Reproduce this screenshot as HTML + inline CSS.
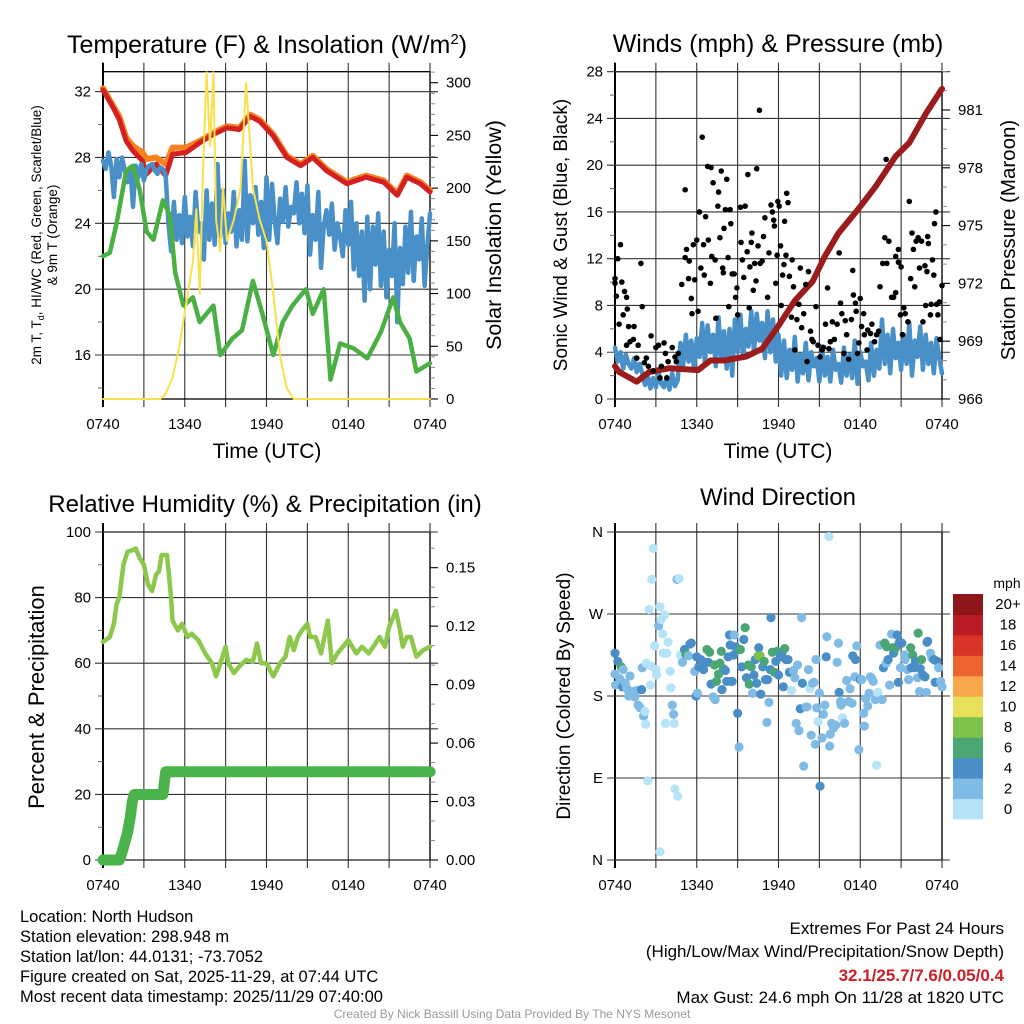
<!DOCTYPE html>
<html><head><meta charset="utf-8"><style>
html,body{margin:0;padding:0;background:#fff}
svg{display:block;font-family:"Liberation Sans",sans-serif}
</style></head><body>
<svg id="c" width="1024" height="1024" viewBox="0 0 1024 1024" xmlns="http://www.w3.org/2000/svg">
<rect width="1024" height="1024" fill="#fff"/>
<g id="g"></g>
<text x="267" y="53" font-size="25" text-anchor="middle">Temperature (F) &amp; Insolation (W/m<tspan dy="-9" font-size="15">2</tspan><tspan dy="9">)</tspan></text>
<text x="778" y="52" font-size="25" text-anchor="middle">Winds (mph) &amp; Pressure (mb)</text>
<text x="265" y="512" font-size="24" text-anchor="middle">Relative Humidity (%) &amp; Precipitation (in)</text>
<text x="778" y="505" font-size="24" text-anchor="middle">Wind Direction</text>
<text transform="translate(41,235) rotate(-90)" font-size="13.5" text-anchor="middle">2m T, T<tspan font-size="9" dy="3">d</tspan><tspan dy="-3">, HI/WC (Red, Green, Scarlet/Blue)</tspan></text>
<text transform="translate(57,235) rotate(-90)" font-size="13.5" text-anchor="middle">&amp; 9m T (Orange)</text>
<text transform="translate(501,235) rotate(-90)" font-size="21.5" text-anchor="middle">Solar Insolation (Yellow)</text>
<text x="267" y="458" font-size="21" text-anchor="middle">Time (UTC)</text>
<text x="778" y="458" font-size="21" text-anchor="middle">Time (UTC)</text>
<text transform="translate(567,235) rotate(-90)" font-size="19" text-anchor="middle">Sonic Wind &amp; Gust (Blue, Black)</text>
<text transform="translate(1015,240) rotate(-90)" font-size="20.5" text-anchor="middle">Station Pressure (Maroon)</text>
<text transform="translate(44,697) rotate(-90)" font-size="22" text-anchor="middle">Percent &amp; Precipitation</text>
<text transform="translate(570,696) rotate(-90)" font-size="19" text-anchor="middle">Direction (Colored By Speed)</text>
<text x="1007" y="588" font-size="14" text-anchor="middle">mph</text>
<g font-size="16.5">
<text x="20" y="922">Location: North Hudson</text>
<text x="20" y="942">Station elevation: 298.948 m</text>
<text x="20" y="962">Station lat/lon: 44.0131; -73.7052</text>
<text x="20" y="982">Figure created on Sat, 2025-11-29, at 07:44 UTC</text>
<text x="20" y="1002">Most recent data timestamp: 2025/11/29 07:40:00</text>
</g>
<g font-size="17" text-anchor="end">
<text x="1004" y="934">Extremes For Past 24 Hours</text>
<text x="1004" y="957">(High/Low/Max Wind/Precipitation/Snow Depth)</text>
<text x="1004" y="981" fill="#cc1f26" font-weight="bold">32.1/25.7/7.6/0.05/0.4</text>
<text x="1004" y="1003">Max Gust: 24.6 mph On 11/28 at 1820 UTC</text>
</g>
<text x="512" y="1018" font-size="12" fill="#999" text-anchor="middle">Created By Nick Bassill Using Data Provided By The NYS Mesonet</text>
</svg>
<script>
// ---- time axis ----
const timeTicks=['0740','1340','1940','0140','0740'];
// ---- panel 1: temperature ----
const tempHours=[0,0.7,1.2,1.7,2.2,2.9,3.2,3.9,4.6,5.1,6.1,7.1,8.1,9.1,10.0,10.8,11.5,12.5,13.5,14.5,15.4,16.4,17.9,19.3,20.6,21.6,22.3,23.3,24];
const tempRed=[32.1,31.1,30.3,29.0,28.4,27.8,27.0,27.6,26.9,28.2,28.3,28.9,29.4,29.8,29.7,30.5,30.2,29.3,28.0,27.5,28.0,27.2,26.4,26.8,26.5,25.7,26.8,26.4,25.9];
const tempOrange=[32.2,31.2,30.5,29.2,28.7,28.3,27.9,28.0,27.6,28.6,28.6,29.0,29.5,29.9,29.8,30.6,30.3,29.4,28.1,27.6,28.1,27.3,26.5,26.9,26.6,25.8,26.9,26.5,26.0];
const dewHours=[0,0.5,1.0,1.7,2.2,2.7,3.2,3.7,4.4,4.9,5.3,5.9,6.6,7.1,8.1,8.6,9.5,10.2,11.0,11.7,12.5,13.2,13.9,14.9,15.4,16.2,16.7,17.4,18.4,19.4,20.4,21.3,21.8,22.5,23.0,24];
const dewValues=[22,22.2,24,27.2,27.5,26,23.5,23,25.4,24.5,21,19,19.5,18,19,16,17,17.5,20.5,18.5,16,18,19,20,18.5,20,14.5,16.7,16.4,15.8,17.4,19.5,18,17,15,15.5];
const windChill=[27.8,27.3,28.3,27.5,25.6,27.9,26.8,28.0,27.2,26.5,27.4,25.0,27.5,26.8,27.6,26.6,27.3,
27.5,27.6,27.2,27.0,27.4,27.3,26.9,24.0,
22.3,25.3,23.0,24.5,22.8,25.6,23.2,24.4,22.6,25.9,23.5,24.0,21.8,26.0,23.0,25.2,22.7,27.6,23.2,26.0,22.8,24.6,23.5,25.9,22.6,24.8,23.0,27.8,22.9,25.7,24.0,26.2,23.3,25.3,22.5,26.8,
23.0,26.4,24.2,22.8,25.5,24.1,26.2,23.8,25.0,24.6,26.5,24.0,25.8,23.4,26.3,22.1,24.5,23.0,25.9,21.3,23.8,24.8,23.3,25.2,22.4,24.0,23.2,22.0,24.8,22.7,
25.3,21.2,24.0,20.8,23.5,19.3,24.4,20.0,23.8,21.5,24.6,20.2,23.5,19.5,22.4,20.8,24.0,18.0,22.5,20.3,23.8,21.0,24.7,20.5,23.2,21.8,24.3,20.2,22.6,24.6];
const solarHours=[0,4.2,4.6,5.1,5.6,6.1,6.6,6.85,7.1,7.35,7.6,7.85,8.1,8.3,8.6,8.8,9.1,9.6,10.1,10.5,11.0,11.5,12.0,12.5,13.0,13.5,14.0,24];
const solarValues=[0,0,5,20,50,90,130,180,100,220,310,240,310,170,140,200,150,170,200,300,200,170,150,100,40,10,0,0];
const tempTicks=[16,20,24,28,32];
const solarTicks=[0,50,100,150,200,250,300];
// ---- panel 2: winds ----
const windSpeed=[4.4,3.2,4.0,2.6,3.8,3.0,2.6,3.5,2.3,3.0,2.2,
1.2,2.0,0.9,1.8,1.0,2.3,1.3,1.0,1.9,0.8,2.2,1.1,1.6,
4.8,2.8,5.5,3.2,5.0,2.5,5.2,3.6,6.5,3.0,6.3,4.0,5.5,2.8,7.0,3.5,5.8,2.6,6.0,2.0,6.8,4.0,7.2,3.5,6.0,4.5,7.5,
4.0,7.3,5.0,6.5,3.5,7.5,4.0,6.8,3.2,5.5,
2.0,5.0,1.8,4.2,2.5,5.3,1.5,3.8,2.2,4.8,1.6,4.0,2.8,3.5,1.5,4.5,2.0,3.6,1.5,4.2,2.5,3.0,1.4,4.4,2.0,3.8,1.8,5.0,1.3,4.0,2.8,3.2,1.6,4.8,2.0,4.2,2.6,
6.8,3.0,5.5,2.2,6.0,3.5,4.8,2.5,5.5,3.0,6.5,2.0,5.0,3.6,6.2,2.5,5.5,3.0,4.8,2.2,5.2,3.5,2.2];
const gustHours=[0,0,0.1,0.2,0.4,0.3,0.5,0.6,0.7,0.85,0.9,0.85,1.0,1.1,1.4,1.35,1.6,1.7,1.9,2.0,2.15,2.3,2.45,2.65,2.8,3.0,3.2,3.3,3.4,3.6,3.7,3.8,3.9,4.2,4.4,4.5,4.65,4.9,5.15,5.15,5.25,5.4,5.45,5.6,5.65,5.75,5.85,6.0,6.1,6.2,6.3,6.4,6.5,6.55,6.65,6.8,6.85,7.0,7.05,7.1,7.2,7.35,7.4,7.55,7.6,7.7,7.8,7.9,7.95,8.0,8.1,8.2,8.3,8.35,8.45,8.5,8.6,8.75,8.85,8.95,9.0,9.2,9.25,9.35,9.45,9.55,9.7,9.75,9.85,9.9,10.0,10.05,10.15,10.25,10.35,10.4,10.5,10.6,10.65,10.8,10.9,11.0,11.2,11.3,11.45,11.55,11.65,11.7,11.8,11.9,11.95,12.05,12.15,12.2,12.3,12.4,12.45,12.55,12.6,12.7,12.8,12.95,13.0,13.1,13.2,13.35,13.5,13.6,13.7,13.85,14.0,14.1,14.2,14.35,14.45,14.55,14.75,14.9,15.05,15.2,15.3,15.45,15.6,15.7,15.8,15.95,16.1,16.3,16.45,16.55,16.65,16.8,16.9,17.0,17.15,17.35,17.45,17.5,17.65,17.7,17.8,17.9,18.0,18.1,18.25,18.3,18.5,18.55,18.75,18.85,19.05,19.2,19.35,19.45,19.65,19.8,19.9,19.95,20.1,20.3,20.45,20.6,20.6,20.8,20.8,20.95,21.0,21.1,21.2,21.3,21.5,21.6,21.7,21.8,21.9,22.0,22.1,22.25,22.35,22.5,22.6,22.75,22.8,22.9,22.95,23.0,23.15,23.2,23.3,23.4,23.45,23.55,23.6,23.7,23.8,23.85,24.0];
const gustMph=[9.9,10.3,8.8,12,13.2,6.4,10,7.2,9.2,8.7,7.7,4.6,6.2,4.9,6.2,5.1,3.5,4.6,11.6,7.9,3.1,3.5,2.8,5.4,2.4,4.4,4.6,1.8,2.8,4.8,3.9,1.8,3.2,4.4,3.6,3.2,3.9,9.8,17.9,12.1,12.8,10.3,11.8,8.6,7.3,13.2,10.2,13.6,7.5,16,11.2,22.4,13.2,10.6,15.6,19.9,13.6,9.9,19.8,12.2,18.5,11.9,6.9,16.5,17.7,13.8,19.5,11.2,10.8,14.6,16.2,18.8,12.1,7.9,16.2,15,10.7,10.7,8.7,9.5,7.2,16.4,13.4,11.9,10.4,16.5,12.6,19.2,7.8,11.3,13.4,14.2,9.3,11.6,10.1,19.7,13.1,24.7,11.6,11.8,13.9,15.5,8.7,12.5,16.6,16,15.3,14.8,9.9,12.3,16.9,16.5,13.1,8,10.6,11.5,15.2,12.3,17.6,16.8,10.5,7,11.9,9.6,4.2,6.8,8.1,11.2,6.1,7.3,9.8,3.2,10.9,5.8,5.1,4.9,7.9,4.6,3.6,4.2,4.4,6.4,9.5,4.3,4.9,6.6,5.1,6.4,12.5,8.2,7.3,3.9,6.7,5.5,3.4,6.8,11,8.9,8.2,7.5,3.9,4.8,8.6,6.2,7.3,5.5,4.2,5.9,5.6,6.4,4.9,5.5,5.8,9.6,11.6,13.8,20.5,11.6,13.5,8.7,8.7,12.2,9.1,11.7,12.8,7.2,11.3,5.5,7.8,7.3,6.6,16.9,10.3,14.2,12.8,9.6,13.5,13.8,11.2,13.5,6.6,11.4,8,10.9,13.9,13.3,7.2,8.1,11.9,10.6,15,16,8.1,7.2,8.3,5.1,9.7];
const pressHours=[0,0.3,1.6,2.5,4,6.1,7,8,9.6,10.8,12,13.2,14.5,15.4,16.4,17.9,19.1,20.6,21.6,22.8,24];
const pressValues=[967.7,967.4,966.9,967.4,967.6,967.5,968.0,968.0,968.2,968.6,969.8,971.1,972.1,973.4,974.6,975.9,977.0,978.6,979.3,980.8,982.1];
const windTicks=[0,4,8,12,16,20,24,28];
const pressTicks=[966,969,972,975,978,981];
// ---- panel 3: humidity & precipitation ----
const rhHours=[0,0.5,0.8,1,1.2,1.5,1.8,2.2,2.4,2.7,3,3.3,3.6,3.9,4.1,4.3,4.7,5,5.1,5.5,5.8,6.2,6.5,7,7.5,8,8.3,8.7,9,9.2,9.6,10,10.5,11,11.3,11.6,12,12.5,13,13.4,13.7,14,14.3,14.6,15,15.2,15.6,16,16.5,16.8,17.2,17.6,18,18.3,18.6,19,19.5,20,20.3,20.7,21,21.5,21.8,22,22.3,22.6,23,23.5,24];
const rhValues=[66.5,68,72,78,80,90,94,94.5,95,92,90,84,82,87,88,93,93,80,73,70,72,68,69,67,63,60,56,61,65,60,57,59,61,60.5,66,60,60,56,60,62,68,64,68,70,72,68,68,63,73,60,63,65,67,65,63,65,63,66,68,65,71,76,70,65,68,68,62,64,65];
const precipHours=[0,1.2,1.4,1.6,1.8,2.0,2.15,2.3,4.4,4.6,24];
const precipValues=[0,0,0.004,0.009,0.014,0.022,0.03,0.0336,0.0336,0.0453,0.0453];
const rhTicks=[0,20,40,60,80,100];
const precipTicks=['0.00','0.03','0.06','0.09','0.12','0.15'];
// ---- panel 4: wind direction ----
const dirHours=[0,0,0.05,0.2,0.45,0.35,0.6,0.55,0.75,0.85,0.98,1.1,1.0,1.2,1.35,1.45,1.6,1.7,1.85,1.95,2.1,2.2,2.25,2.0,2.3,2.5,2.65,2.6,2.7,2.8,2.9,3.0,3.05,3.2,3.3,3.4,3.5,3.55,3.65,3.8,3.9,4.05,4.1,4.2,4.3,4.35,3.7,4.55,4.7,4.4,4.6,2.4,3.3,15.7,4.8,4.95,5.1,5.2,5.4,5.5,5.6,5.85,5.95,6.05,6.0,6.15,6.3,6.5,6.6,6.75,6.85,6.95,7.05,7.2,7.35,7.3,7.45,7.6,7.7,7.8,7.85,7.95,8.1,8.2,8.3,8.4,8.45,8.5,8.6,8.7,8.75,8.85,9.0,9.1,9.2,9.3,9.45,9.55,9.65,9.8,9.85,10.0,10.1,10.2,10.3,10.4,10.5,10.55,10.65,10.7,10.85,10.95,11.05,11.15,11.2,11.3,11.4,11.45,11.55,11.7,11.8,11.9,12.0,12.15,12.25,12.35,12.45,12.55,12.7,12.8,12.95,13.1,13.2,13.3,13.4,13.5,13.6,13.7,13.75,13.85,14.0,14.1,14.2,14.3,14.4,14.5,14.6,14.7,14.75,14.8,14.9,15.0,15.05,15.2,15.3,15.4,15.5,15.55,15.75,15.8,15.9,16.05,16.2,16.3,16.4,16.45,16.55,16.6,16.7,16.85,17.0,17.15,17.25,17.4,17.45,17.6,17.65,17.75,17.9,18.0,18.1,18.25,18.3,18.4,18.55,18.65,18.75,18.85,18.95,19.1,19.2,19.3,19.45,19.6,19.7,19.8,19.9,19.95,20.05,20.15,20.3,20.4,20.45,20.6,20.7,20.8,20.85,20.95,21.05,21.25,21.3,21.45,21.55,21.7,21.75,21.85,21.95,22.05,22.2,22.25,22.35,22.4,22.5,22.6,22.75,22.85,22.9,22.95,23.15,23.25,23.4,23.5,23.65,23.75,23.9,24];
const dirDegrees=[204,227,192,218,212,199,209,190,194,189,186,202,180,183,185,179,186,170,167,187,158,163,149,211,216,275,213,192,308,342,235,209,203,257,278,264,248,227,269,227,239,207,189,170,160,150,150,308,309,78,70,87,9,355,225,217,231,226,224,237,238,207,180,183,223,212,220,209,217,231,217,228,193,179,176,214,196,204,216,229,187,210,208,196,223,247,236,196,196,225,247,234,161,124,231,212,242,255,200,214,193,212,183,203,220,194,224,233,224,182,212,218,198,151,198,173,209,266,228,206,218,229,203,223,227,190,232,220,220,206,186,208,200,150,214,142,166,266,194,103,168,168,209,188,137,194,195,127,220,167,152,183,81,134,160,170,223,245,125,138,150,145,148,217,238,184,174,170,156,150,197,174,188,172,224,201,220,235,121,198,198,161,147,177,169,183,201,199,196,176,104,184,236,176,211,238,216,234,220,192,248,233,227,233,247,195,238,211,238,225,220,209,198,233,211,225,211,218,200,249,185,210,220,203,201,184,239,240,227,222,220,195,218,211,196,190];
const dirSpeed=[3,5,3,5,7,3,3,5,3,3,3,3,3,3,3,3,3,3,3,5,3,1,1,3,1,1,1,1,1,1,1,1,1,3,1,1,1,1,1,1,1,1,1,3,3,1,1,3,1,1,1,1,1,1,1,3,5,7,3,5,5,3,5,3,5,5,5,5,5,7,5,7,5,3,3,7,7,7,7,7,5,7,5,5,5,5,5,5,5,5,3,5,5,3,7,5,5,7,5,7,7,7,3,5,5,5,9,5,9,5,5,7,5,3,5,3,5,5,7,7,5,7,5,5,5,5,7,5,5,5,1,3,3,3,3,3,5,3,5,3,3,3,3,1,3,3,3,3,3,3,1,3,5,3,3,3,5,3,3,3,3,3,3,3,3,5,3,3,1,3,3,3,3,3,5,3,5,3,3,5,3,3,3,3,3,3,3,3,3,3,1,1,3,3,5,7,3,7,5,3,3,7,5,7,5,5,5,3,5,3,3,3,3,7,5,7,5,5,3,7,3,5,7,5,5,3,5,5,3,3,5,5,5,3,3,3];
const dirTicks=['N','E','S','W','N'];
const speedBins=['0','2','4','6','8','10','12','14','16','18','20+'];
const speedColors=['#b5e3f8','#80bbe5','#4a8ec8','#4aa672','#7cc24a','#e6e05a','#f6a84a','#ef6430','#da3328','#b91c24','#8e1519'];

// ---------- drawing ----------
const NS='http://www.w3.org/2000/svg';
const G=document.getElementById('g');
function mk(tag,attrs,parent){const e=document.createElementNS(NS,tag);for(const k in attrs)e.setAttribute(k,attrs[k]);(parent||G).appendChild(e);return e;}
const P1={x0:103,x1:430,y0:71.7,y1:399},P2={x0:615,x1:942,y0:71.7,y1:399},P3={x0:103,x1:430,y0:532,y1:860},P4={x0:615,x1:942,y0:532,y1:860};
const xs=(P,h)=>P.x0+h/24*(P.x1-P.x0);
const y1L=v=>355-(v-16)*16.46, y1R=s=>399-s*(399-82.7)/300;
const y2L=v=>399-v*(399-71.7)/28, y2R=p=>399-(p-966)*(399-110)/15;
const y3L=v=>860-v*3.28, y3R=p=>860-p/0.15*(860-567.7);
const y4=d=>860-d/360*328;

function frame(P,name){
  const g=mk('g',{});
  
  
  for(let i=0;i<=8;i++){const x=P.x0+i*(P.x1-P.x0)/8;
    const l=mk('line',{x1:x,x2:x,y1:P.y0-9,y2:P.y1+8,stroke:'#333','stroke-width':1.1},g);
    
    }
  timeTicks.forEach((t,i)=>{const x=P.x0+i*(P.x1-P.x0)/4;
    const tx=mk('text',{x:x,y:P.y1+30,'font-size':15,'text-anchor':'middle'},g);tx.textContent=t;
    
    });
  const r=mk('rect',{x:P.x0,y:P.y0,width:P.x1-P.x0,height:P.y1-P.y0,fill:'none',stroke:'#000','stroke-width':1.3},g);
  
  
  mk('line',{x1:P.x0,x2:P.x0,y1:P.y0-9,y2:P.y1+8,stroke:'#000','stroke-width':2},g);
  return g;
}
function hgrid(g,P,ticks,yf,labels,minor){
  ticks.forEach((v,i)=>{const y=yf(v);
    const l=mk('line',{x1:P.x0-8,x2:P.x1+8,y1:y,y2:y,stroke:'#333','stroke-width':1.1},g);
    
    
    const t=mk('text',{x:P.x0-12,y:y+5,'font-size':15,'text-anchor':'end'},g);t.textContent=labels?labels[i]:v;
    
    });
  (minor||[]).forEach(v=>{const y=yf(v);mk('line',{x1:P.x0-5,x2:P.x0,y1:y,y2:y,stroke:'#666','stroke-width':1},g);});
}
function rticks(g,P,ticks,yf,labels,minor){
  ticks.forEach((v,i)=>{const y=yf(v);
    mk('line',{x1:P.x1,x2:P.x1+8,y1:y,y2:y,stroke:'#000','stroke-width':1.1},g);
    const t=mk('text',{x:P.x1+16,y:y+5,'font-size':15},g);t.textContent=labels?labels[i]:v;
    
    });
  (minor||[]).forEach(v=>{const y=yf(v);mk('line',{x1:P.x1,x2:P.x1+5,y1:y,y2:y,stroke:'#888','stroke-width':1},g);});
}
function line(P,hs,vs,yf,color,w,name){
  const d=hs.map((h,i)=>(i?'L':'M')+xs(P,h).toFixed(1)+','+yf(vs[i]).toFixed(1)).join('');
  const p=mk('path',{d:d,fill:'none',stroke:color,'stroke-width':w,'stroke-linejoin':'round','stroke-linecap':'round'});
  
  
  return p;
}
const idxHours=arr=>arr.map((_,i)=>i*24/(arr.length-1));

// Panel 1
let g1=frame(P1,'temperature');
hgrid(g1,P1,tempTicks,y1L,null,[14,18,22,26,30]);
rticks(g1,P1,solarTicks,y1R,null,[10,20,30,40,60,70,80,90,110,120,130,140,160,170,180,190,210,220,230,240,260,270,280,290,310]);
line(P1,tempHours,tempOrange,y1L,'#f5821f',6,'temperature-9m-line');
line(P1,tempHours,tempRed,y1L,'#d42020',5,'temperature-2m-line');
line(P1,idxHours(windChill),windChill,y1L,'#4a90c8',4.5,'wind-chill-line');
line(P1,dewHours,dewValues,y1L,'#4bb043',4.5,'dewpoint-line');
line(P1,solarHours,solarValues,y1R,'#f9e04d',2,'solar-insolation-line');

// Panel 2
let g2=frame(P2,'winds');
hgrid(g2,P2,windTicks,y2L,null,[2,6,10,14,18,22,26]);
rticks(g2,P2,pressTicks,y2R,null,[967,968,970,971,973,974,976,977,979,980,982,983]);
line(P2,idxHours(windSpeed),windSpeed,y2L,'#4a90c8',4.5,'sonic-wind-line');
line(P2,pressHours,pressValues,y2R,'#9b1c1c',6,'pressure-line');
gustHours.forEach((h,i)=>{const c=mk('circle',{cx:xs(P2,h),cy:y2L(gustMph[i]),r:2.8,fill:'#000'});
  
  });

// Panel 3
let g3=frame(P3,'humidity');
hgrid(g3,P3,rhTicks,y3L,null,[10,30,50,70,90]);
rticks(g3,P3,precipTicks.map(Number),y3R,precipTicks,[0.01,0.02,0.04,0.05,0.07,0.08,0.10,0.11,0.13,0.14,0.16]);
line(P3,rhHours,rhValues,y3L,'#8cc84b',4.5,'relative-humidity-line');
line(P3,precipHours,precipValues,y3R,'#4bb34b',11,'precipitation-line');

// Panel 4
let g4=frame(P4,'wind-direction');
hgrid(g4,P4,[0,90,180,270,360],y4,dirTicks,[]);
function colorFor(s){let i=Math.min(10,Math.floor(s/2));return speedColors[i];}
dirHours.forEach((h,i)=>{const c=mk('circle',{cx:xs(P4,h),cy:y4(dirDegrees[i]),r:4.6,fill:colorFor(dirSpeed[i])});
  
  });
// colorbar
const cb=mk('g',{});


const bh=(819-594)/speedBins.length;
speedBins.forEach((b,i)=>{const y=819-(i+1)*bh;
  const r=mk('rect',{x:953,y:y,width:30,height:bh+0.5,fill:speedColors[i]},cb);
  
  
  const t=mk('text',{x:1008,y:y+bh/2+5,'font-size':15,'text-anchor':'middle'},cb);t.textContent=b;
  
  });
</script>
</body></html>
